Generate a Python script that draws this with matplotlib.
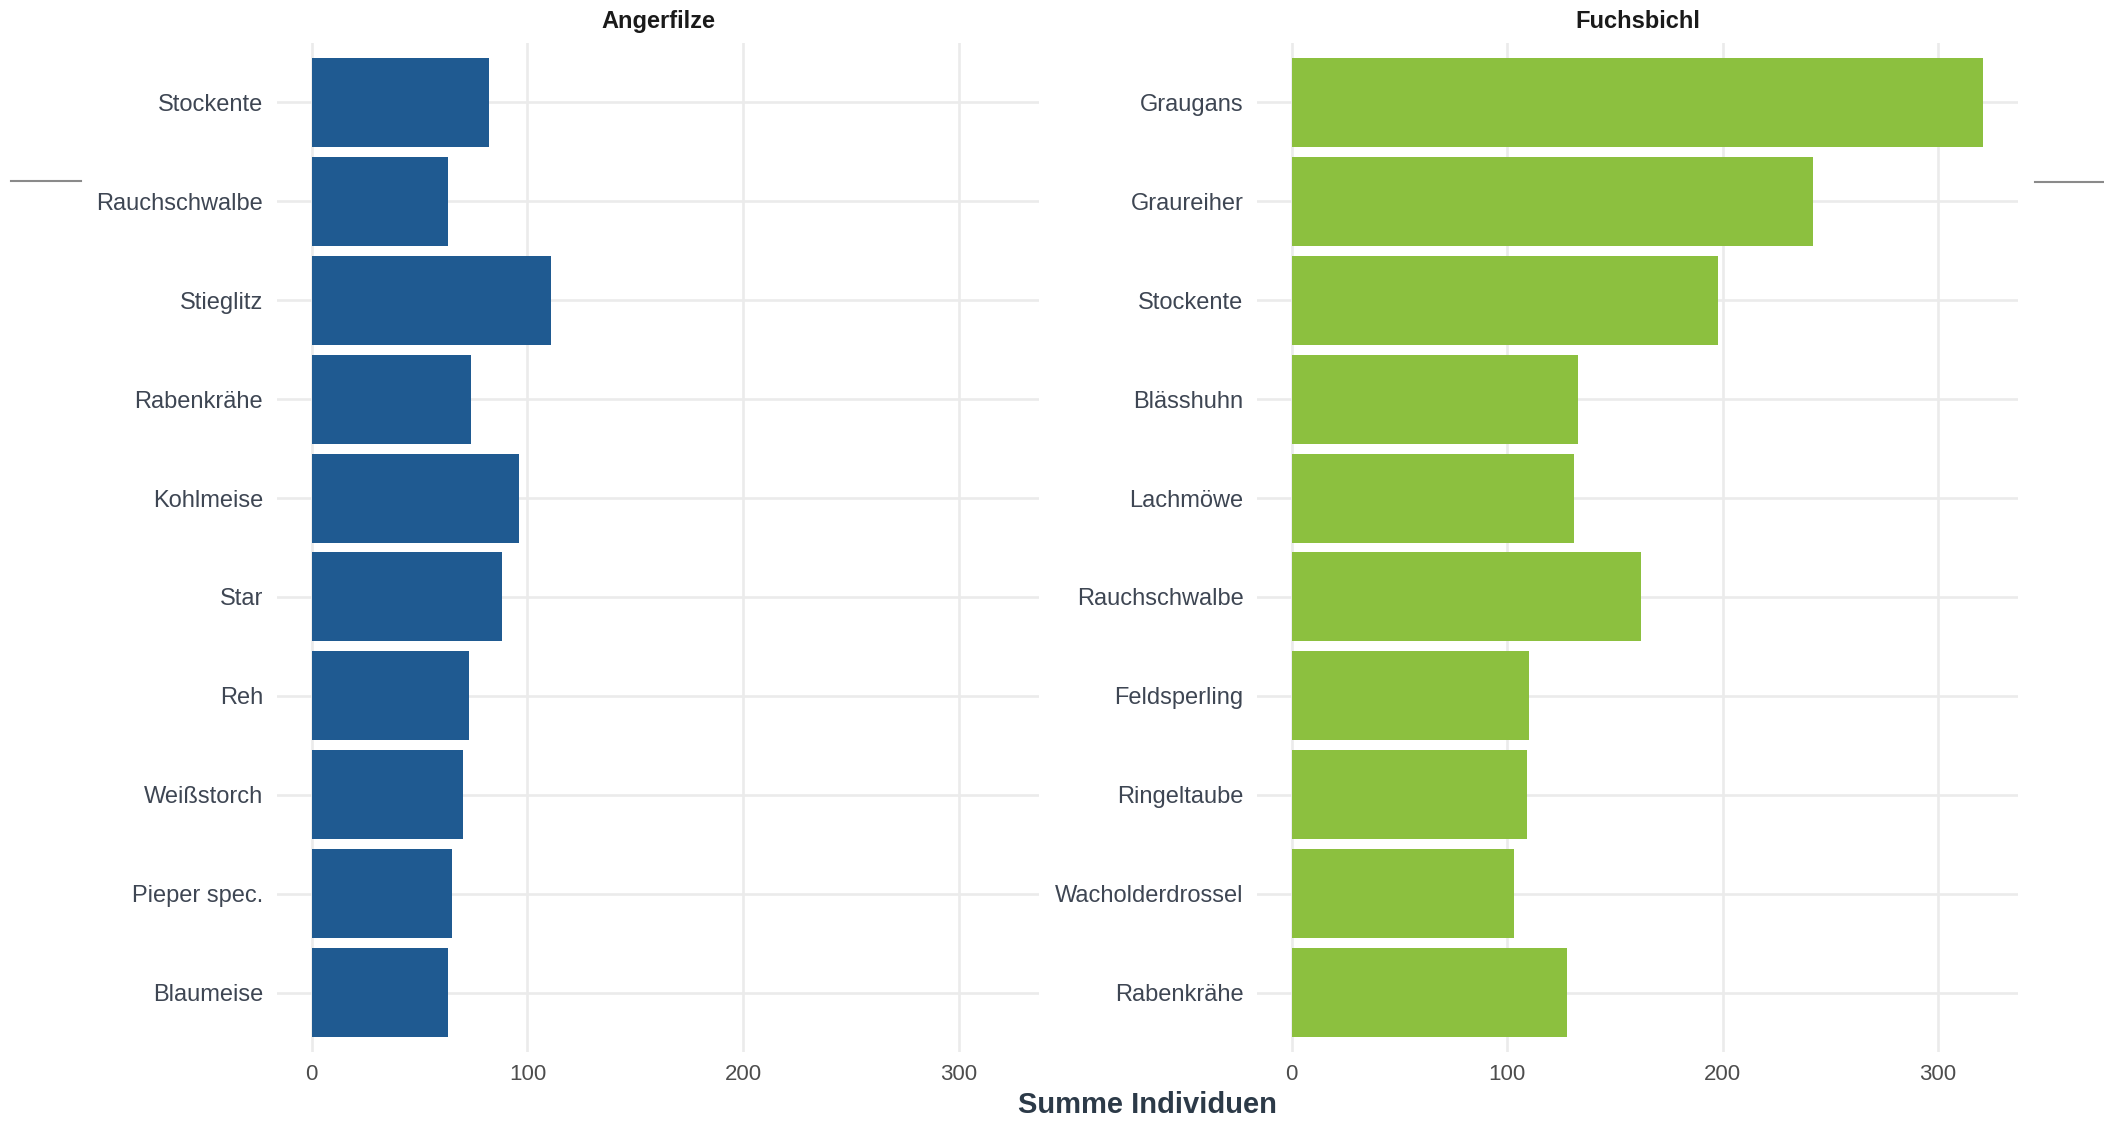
import numpy as np
import matplotlib
matplotlib.use('Agg')
from matplotlib import pyplot as plt
from matplotlib.lines import Line2D

plt.rcParams['font.family'] = ['Liberation Sans', 'DejaVu Sans']

# Daten (von oben nach unten)
angerfilze_arten = ['Stockente', 'Rauchschwalbe', 'Stieglitz', 'Rabenkrähe', 'Kohlmeise',
                    'Star', 'Reh', 'Weißstorch', 'Pieper spec.', 'Blaumeise']
angerfilze_werte = [82, 63, 111, 74, 96, 88, 73, 70, 65, 63]

fuchsbichl_arten = ['Graugans', 'Graureiher', 'Stockente', 'Blässhuhn', 'Lachmöwe',
                    'Rauchschwalbe', 'Feldsperling', 'Ringeltaube', 'Wacholderdrossel', 'Rabenkrähe']
fuchsbichl_werte = [321, 242, 198, 133, 131, 162, 110, 109, 103, 128]

x_ticks = [0, 100, 200, 300]

W, H = 2104, 1121
fig = plt.figure(figsize=(W / 100, H / 100), dpi=100)

top_px, bottom_px = 43, 1052
panels = [
    ('Angerfilze', angerfilze_arten, angerfilze_werte, '#1F5A91', 277, 1039, 10),
    ('Fuchsbichl', fuchsbichl_arten, fuchsbichl_werte, '#8CC03F', 1257, 2018, 9.8),
]

max_val = max(max(angerfilze_werte), max(fuchsbichl_werte))
xlim = (-0.05 * max_val, 1.05 * max_val)

for title, arten, werte, farbe, x0, x1, pad in panels:
    ax = fig.add_axes([x0 / W, 1 - bottom_px / H, (x1 - x0) / W, (bottom_px - top_px) / H])
    y = np.arange(len(arten))
    ax.barh(y, werte, height=0.9, color=farbe, zorder=2)
    ax.set_yticks(y)
    ax.set_yticklabels(arten)
    ax.set_ylim(len(arten) - 0.4, -0.6)
    ax.set_xlim(*xlim)
    ax.set_xticks(x_ticks)
    ax.grid(True, color='#EBEBEB', linewidth=1.9, zorder=0)
    ax.set_axisbelow(True)
    for s in ax.spines.values():
        s.set_visible(False)
    ax.tick_params(axis='y', length=0, pad=pad, labelsize=17, labelcolor='#3E4653')
    ax.tick_params(axis='x', length=0, pad=9, labelsize=16, labelcolor='#4D4D4D')
    ax.set_title(title, fontsize=17, fontweight='bold', color='#1A1A1A', pad=11)

fig.text(1147.5 / W, 1 - 1105 / H, 'Summe Individuen', ha='center', va='center',
         fontsize=21, fontweight='bold', color='#2C3A48')

# kurze graue Linien am Rand
fig.add_artist(Line2D([11 / W, 81 / W], [1 - 181 / H, 1 - 181 / H], color='#8A8A8A', linewidth=1.5))
fig.add_artist(Line2D([2035 / W, 2103 / W], [1 - 182 / H, 1 - 182 / H], color='#8A8A8A', linewidth=1.5))

fig.savefig('out.png', dpi=100, facecolor='white')
